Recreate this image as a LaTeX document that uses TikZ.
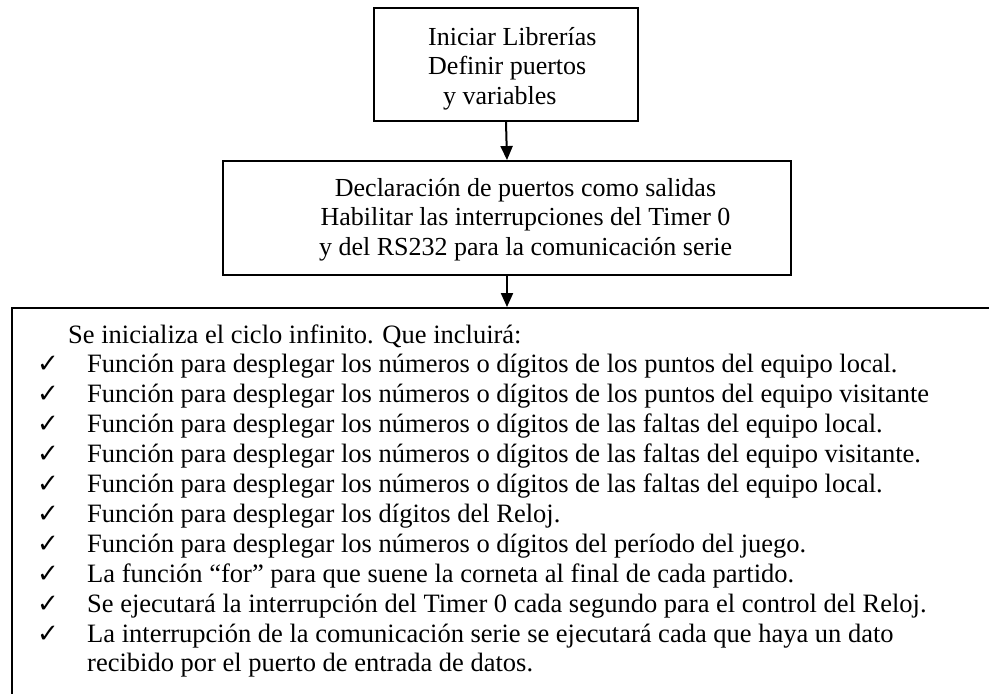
\documentclass[tikz,border=0pt]{standalone}
\usepackage{fontspec}
\setmainfont{Liberation Serif}
\newfontfamily\chkfont{DejaVu Sans}
\usetikzlibrary{arrows.meta}
\begin{document}
\begin{tikzpicture}[x=1pt,y=-1pt,
  box/.style={draw, line width=1.9pt, inner sep=0pt},
  txt/.style={anchor=base west, inner sep=0pt, font=\fontsize{26}{30}\selectfont},
  ltxt/.style={anchor=base west, inner sep=0pt, font=\fontsize{26.5}{30}\selectfont},
  ctxt/.style={anchor=base, inner sep=0pt, font=\fontsize{26}{30}\selectfont},
  chk/.style={anchor=base, inner sep=0pt, font=\chkfont\fontsize{26}{30}\selectfont},
  arr/.style={line width=2pt, -{Triangle[length=14pt,width=12pt]}}]
\useasboundingbox (0,0) rectangle (989,694);
\clip (0,0) rectangle (989,694);
\fill[white] (0,0) rectangle (989,694);

% boxes
\node[box, minimum width=264pt, minimum height=113pt] (init) at (506,64.5) {};
\node[box, minimum width=568pt, minimum height=114pt] (decl) at (507,218) {};
\node[box, minimum width=1088pt, minimum height=492pt] (loop) at (556,554) {};

% connectors
\draw[arr] (init.south) -- (decl.north);
\draw[arr] (decl.south) -- (decl.south |- loop.north);

% top box text
\node[txt] (t1) at (428,45) {Iniciar Librerías};
\node[txt] (t2) at (428,74.5) {Definir puertos};
\node[txt] (t3) at (443,104) {y variables};

% middle box text
\node[ctxt] (m1) at (525.5,196) {Declaración de puertos como salidas};
\node[ctxt] (m2) at (525.5,225.5) {Habilitar las interrupciones del Timer 0};
\node[ctxt] (m3) at (525.5,255) {y del RS232 para la comunicación serie};

% bottom box text
\node[ltxt] (b0) at (68,343) {Se inicializa el ciclo infinito. Que incluirá:};
\foreach \i/\t in {
  1/{Función para desplegar los números o dígitos de los puntos del equipo local.},
  2/{Función para desplegar los números o dígitos de los puntos del equipo visitante},
  3/{Función para desplegar los números o dígitos de las faltas del equipo local.},
  4/{Función para desplegar los números o dígitos de las faltas del equipo visitante.},
  5/{Función para desplegar los números o dígitos de las faltas del equipo local.},
  6/{Función para desplegar los dígitos del Reloj.},
  7/{Función para desplegar los números o dígitos del período del juego.},
  8/{La función “for” para que suene la corneta al final de cada partido.},
  9/{Se ejecutará la interrupción del Timer 0 cada segundo para el control del Reloj.},
  10/{La interrupción de la comunicación serie se ejecutará cada que haya un dato}} {
  \node[chk] (c\i) at (48,343+29.9*\i) {✓};
  \node[ltxt] (b\i) at (87,343+29.9*\i) {\t};
}
\node[ltxt] (b11) at (87,343+29.9*11) {recibido por el puerto de entrada de datos.};
\end{tikzpicture}
\end{document}
